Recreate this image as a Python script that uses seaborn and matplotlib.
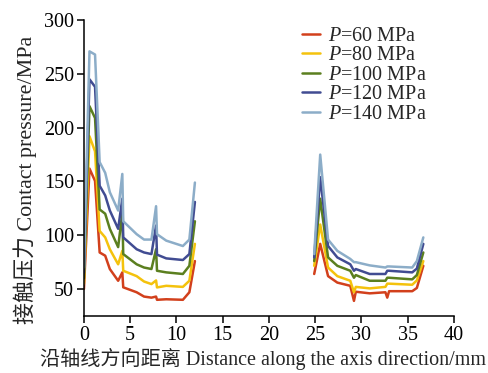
import numpy as np
import pandas as pd
import matplotlib
matplotlib.use("Agg")
import matplotlib.pyplot as plt
import seaborn as sns

# Contact pressure along the axis for five load levels, two contact zones
pressures = ["60", "80", "100", "120", "140"]
colors = ["#d2401c", "#f4c20d", "#5b7f1f", "#414c92", "#8cadc8"]

x_left = [0, 0.6, 1.2, 1.7, 2.3, 2.8, 3.7, 4.15, 4.25, 5.7, 6.5, 7.3,
          7.8, 7.9, 8.9, 10.7, 11.4, 12.0]
p60_left = [50, 162, 150.5, 84, 81, 68.6, 57.7, 65.5, 51.6, 47, 43, 42,
            43, 40, 40.5, 40, 47, 76]
p80_left = [55, 192, 178, 104, 98, 87, 73, 85.5, 67, 62, 57, 54.6,
            58, 51.5, 53, 52, 57.7, 92]
p100_left = [60, 220, 209, 124, 120, 106, 89, 121, 82.5, 73, 70, 68.6,
             87, 67, 65.5, 64, 71.6, 113]
p120_left = [65, 245, 238, 146, 137, 123, 106, 134, 98, 87, 84, 82.5,
             109, 82, 78.5, 77, 82.5, 131]
p140_left = [70, 271, 268, 168, 158, 140, 123, 157, 113, 101, 96, 96,
             127, 101, 95, 90, 96, 149]

x_right = [24.9, 25.55, 26.4, 27.4, 28.8, 29.2, 29.4, 30.9, 32.6, 32.8,
           33.0, 35.5, 36.0, 36.7]
p60_right = [64, 92, 62, 56, 53, 39, 47.5, 46, 47, 42, 48, 48, 51, 71.6]
p80_right = [71.6, 110, 70, 62, 57.7, 47, 52, 50.6, 52, 55, 55, 54, 58, 76]
p100_right = [76, 134, 79.4, 71.6, 67, 60.5, 63, 57.7, 57.7, 60.5, 60.5, 59, 63, 84]
p120_right = [79.4, 154, 90, 79.4, 73, 67, 68.6, 64, 64, 67, 67, 65.5, 69, 92]
p140_right = [82.5, 175, 96, 85.5, 78, 75, 75, 72, 70, 71, 71, 70, 76, 98]

left_values = [p60_left, p80_left, p100_left, p120_left, p140_left]
right_values = [p60_right, p80_right, p100_right, p120_right, p140_right]

rows = []
for p, lv, rv in zip(pressures, left_values, right_values):
    label = f"$P$={p} MPa"
    for x, v in zip(x_left, lv):
        rows.append((label, "left", x, v))
    for x, v in zip(x_right, rv):
        rows.append((label, "right", x, v))
df = pd.DataFrame(rows, columns=["series", "zone", "x", "pressure"])

sns.set_style("ticks")
plt.rcParams["font.family"] = ["Liberation Serif", "Noto Sans CJK SC"]
plt.rcParams["mathtext.fontset"] = "custom"
plt.rcParams["mathtext.it"] = "Liberation Serif:italic"
plt.rcParams["mathtext.rm"] = "Liberation Serif"

FS = 14.5

fig = plt.figure(figsize=(4.88, 3.73), dpi=100)
ax = fig.add_axes([0.172, 0.153, 0.758, 0.793])

palette = dict(zip([f"$P$={p} MPa" for p in pressures], colors))
sns.lineplot(data=df, x="x", y="pressure", hue="series", units="zone",
             estimator=None, palette=palette, linewidth=1.8, ax=ax,
             sort=False)

ax.set_xlim(0, 40)
ax.set_ylim(25, 300)
ax.set_xticks(np.arange(0, 41, 5))
ax.set_yticks(np.arange(50, 301, 50))
ax.tick_params(direction="out", length=5, width=1.1, labelsize=FS,
               colors="black", pad=2)
for s in ["left", "bottom"]:
    ax.spines[s].set_linewidth(1.1)
    ax.spines[s].set_color("black")
sns.despine(ax=ax)

ax.set_xlabel("沿轴线方向距离 Distance along the axis direction/mm",
              fontsize=14.5)
ax.xaxis.set_label_coords(0.484, -0.11)
ax.set_ylabel("接触压力 Contact pressure/MPa", fontsize=15.8)
ax.yaxis.set_label_coords(-0.128, 0.46)

leg = ax.legend(loc="upper left", bbox_to_anchor=(0.567, 1.005),
                frameon=False, fontsize=FS, handlelength=0.9,
                handletextpad=0.4, labelspacing=0.02, borderaxespad=0)
for line in leg.get_lines():
    line.set_linewidth(1.8)

fig.savefig("out.png", dpi=100)
